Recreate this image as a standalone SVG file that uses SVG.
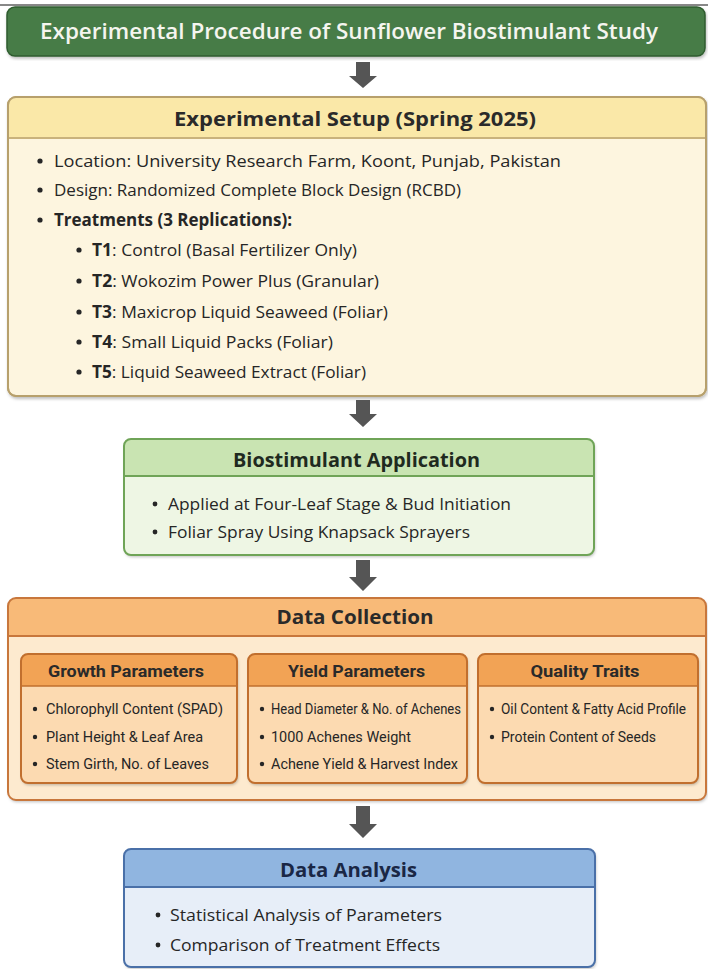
<svg xmlns="http://www.w3.org/2000/svg" width="708" height="969" viewBox="0 0 708 969">
<defs>
<filter id="sh" x="-5%" y="-5%" width="110%" height="115%">
<feDropShadow dx="1" dy="2" stdDeviation="1.5" flood-color="#000" flood-opacity="0.25"/>
</filter>
<style>
.t{font-family:"Open Sans","Noto Sans",sans-serif;}
.hd{font-family:"Open Sans","Noto Sans",sans-serif;font-weight:700;font-size:20px;text-anchor:middle;}
.b{font-family:"Open Sans","Noto Sans",sans-serif;font-size:17px;fill:#262626;}
.s{font-family:Roboto,"Noto Sans",sans-serif;font-size:14.5px;fill:#262626;}
.sh{font-family:Roboto,"Noto Sans",sans-serif;font-weight:700;font-size:17px;fill:#2a2a2a;text-anchor:middle;}
.dot{fill:#262626;}
.arr{fill:#555555;}
</style>
</defs>
<rect width="708" height="969" fill="#ffffff"/>
<line x1="0" y1="5" x2="708" y2="5" stroke="#111" stroke-width="1"/>

<g id="title">
<rect x="7" y="7" width="698" height="49" rx="8" fill="#467b46" stroke="#2f5c2f" stroke-width="1.5" filter="url(#sh)"/>
<text class="t" x="349" y="39" font-size="22" font-weight="600" fill="#f5f5ef" text-anchor="middle" textLength="618" lengthAdjust="spacingAndGlyphs">Experimental Procedure of Sunflower Biostimulant Study</text>
</g>

<g id="setup">
<rect x="8" y="97" width="698" height="299" rx="8" fill="#fdf5df" stroke="#b7a06c" stroke-width="2" filter="url(#sh)"/>
<path d="M8,138 V105 a8,8 0 0 1 8,-8 H698 a8,8 0 0 1 8,8 V138 Z" fill="#fae8a8"/>
<line x1="8" y1="138" x2="706" y2="138" stroke="#c9b27c" stroke-width="2"/>
<rect x="8" y="97" width="698" height="299" rx="8" fill="none" stroke="#b7a06c" stroke-width="2"/>
<text class="hd" x="355" y="126" font-size="21" fill="#2a2a2a" textLength="362" lengthAdjust="spacingAndGlyphs">Experimental Setup (Spring 2025)</text>
<circle class="dot" cx="40" cy="161" r="2.6"/><text class="b" x="54" y="167" textLength="507" lengthAdjust="spacingAndGlyphs">Location: University Research Farm, Koont, Punjab, Pakistan</text>
<circle class="dot" cx="40" cy="190" r="2.6"/><text class="b" x="54" y="196" textLength="407" lengthAdjust="spacingAndGlyphs">Design: Randomized Complete Block Design (RCBD)</text>
<circle class="dot" cx="40" cy="220" r="2.6"/><text class="b" x="54" y="226" font-weight="700" textLength="238" lengthAdjust="spacingAndGlyphs">Treatments (3 Replications):</text>
<circle class="dot" cx="79" cy="250" r="2.6"/><text class="b" x="92" y="256" textLength="265" lengthAdjust="spacingAndGlyphs"><tspan font-weight="700">T1</tspan>: Control (Basal Fertilizer Only)</text>
<circle class="dot" cx="79" cy="281" r="2.6"/><text class="b" x="92" y="287" textLength="287" lengthAdjust="spacingAndGlyphs"><tspan font-weight="700">T2</tspan>: Wokozim Power Plus (Granular)</text>
<circle class="dot" cx="79" cy="312" r="2.6"/><text class="b" x="92" y="318" textLength="296" lengthAdjust="spacingAndGlyphs"><tspan font-weight="700">T3</tspan>: Maxicrop Liquid Seaweed (Foliar)</text>
<circle class="dot" cx="79" cy="342" r="2.6"/><text class="b" x="92" y="348" textLength="241" lengthAdjust="spacingAndGlyphs"><tspan font-weight="700">T4</tspan>: Small Liquid Packs (Foliar)</text>
<circle class="dot" cx="79" cy="372" r="2.6"/><text class="b" x="92" y="378" textLength="274" lengthAdjust="spacingAndGlyphs"><tspan font-weight="700">T5</tspan>: Liquid Seaweed Extract (Foliar)</text>
</g>

<g id="bio">
<rect x="124" y="439" width="470" height="116" rx="7" fill="#eef6e4" filter="url(#sh)"/>
<path d="M124,476 V446 a7,7 0 0 1 7,-7 H587 a7,7 0 0 1 7,7 V476 Z" fill="#c9e4b2"/>
<line x1="124" y1="476" x2="594" y2="476" stroke="#6fa457" stroke-width="2"/>
<rect x="124" y="439" width="470" height="116" rx="7" fill="none" stroke="#6fa457" stroke-width="2"/>
<text class="hd" x="356.5" y="467" fill="#1f2a1f" textLength="247" lengthAdjust="spacingAndGlyphs">Biostimulant Application</text>
<circle class="dot" cx="155" cy="504" r="2.4"/><text class="b" x="168" y="510" textLength="343" lengthAdjust="spacingAndGlyphs">Applied at Four-Leaf Stage &amp; Bud Initiation</text>
<circle class="dot" cx="155" cy="532" r="2.4"/><text class="b" x="168" y="538" textLength="302" lengthAdjust="spacingAndGlyphs">Foliar Spray Using Knapsack Sprayers</text>
</g>

<g id="collection">
<rect x="8" y="598" width="698" height="202" rx="8" fill="#fdeacf" filter="url(#sh)"/>
<path d="M8,636 V606 a8,8 0 0 1 8,-8 H698 a8,8 0 0 1 8,8 V636 Z" fill="#f8ba78"/>
<line x1="8" y1="636" x2="706" y2="636" stroke="#c8773c" stroke-width="2"/>
<rect x="8" y="598" width="698" height="202" rx="8" fill="none" stroke="#c8773c" stroke-width="2"/>
<text class="hd" x="355" y="624" fill="#2a2a2a" textLength="157" lengthAdjust="spacingAndGlyphs">Data Collection</text>
</g>

<g id="growth">
<rect x="21" y="654" width="216" height="129" rx="7" fill="#fcdab1" filter="url(#sh)"/>
<path d="M21,686 V661 a7,7 0 0 1 7,-7 H230 a7,7 0 0 1 7,7 V686 Z" fill="#f2a355"/>
<line x1="21" y1="686" x2="237" y2="686" stroke="#c16f2e" stroke-width="1.5"/>
<rect x="21" y="654" width="216" height="129" rx="7" fill="none" stroke="#c16f2e" stroke-width="2"/>
<text class="sh" x="126" y="677" textLength="156" lengthAdjust="spacingAndGlyphs">Growth Parameters</text>
<circle class="dot" cx="35" cy="709" r="2.2"/><text class="s" x="46" y="714" textLength="177" lengthAdjust="spacingAndGlyphs">Chlorophyll Content (SPAD)</text>
<circle class="dot" cx="35" cy="737" r="2.2"/><text class="s" x="46" y="742" textLength="157" lengthAdjust="spacingAndGlyphs">Plant Height &amp; Leaf Area</text>
<circle class="dot" cx="35" cy="764" r="2.2"/><text class="s" x="46" y="769" textLength="163" lengthAdjust="spacingAndGlyphs">Stem Girth, No. of Leaves</text>
</g>

<g id="yield">
<rect x="248" y="654" width="219" height="129" rx="7" fill="#fcdab1" filter="url(#sh)"/>
<path d="M248,686 V661 a7,7 0 0 1 7,-7 H460 a7,7 0 0 1 7,7 V686 Z" fill="#f2a355"/>
<line x1="248" y1="686" x2="467" y2="686" stroke="#c16f2e" stroke-width="1.5"/>
<rect x="248" y="654" width="219" height="129" rx="7" fill="none" stroke="#c16f2e" stroke-width="2"/>
<text class="sh" x="356.5" y="677" textLength="137" lengthAdjust="spacingAndGlyphs">Yield Parameters</text>
<circle class="dot" cx="262" cy="709" r="2.2"/><text class="s" x="271" y="714" textLength="190" lengthAdjust="spacingAndGlyphs">Head Diameter &amp; No. of Achenes</text>
<circle class="dot" cx="262" cy="737" r="2.2"/><text class="s" x="271" y="742" textLength="140" lengthAdjust="spacingAndGlyphs">1000 Achenes  Weight</text>
<circle class="dot" cx="262" cy="764" r="2.2"/><text class="s" x="271" y="769" textLength="187" lengthAdjust="spacingAndGlyphs">Achene Yield &amp; Harvest Index</text>
</g>

<g id="quality">
<rect x="478" y="654" width="220" height="129" rx="7" fill="#fcdab1" filter="url(#sh)"/>
<path d="M478,686 V661 a7,7 0 0 1 7,-7 H691 a7,7 0 0 1 7,7 V686 Z" fill="#f2a355"/>
<line x1="478" y1="686" x2="698" y2="686" stroke="#c16f2e" stroke-width="1.5"/>
<rect x="478" y="654" width="220" height="129" rx="7" fill="none" stroke="#c16f2e" stroke-width="2"/>
<text class="sh" x="585" y="677" textLength="109" lengthAdjust="spacingAndGlyphs">Quality Traits</text>
<circle class="dot" cx="492" cy="709" r="2.2"/><text class="s" x="501" y="714" textLength="185" lengthAdjust="spacingAndGlyphs">Oil Content &amp; Fatty Acid Profile</text>
<circle class="dot" cx="492" cy="737" r="2.2"/><text class="s" x="501" y="742" textLength="155" lengthAdjust="spacingAndGlyphs">Protein Content of Seeds</text>
</g>

<g id="analysis">
<rect x="124" y="849" width="471" height="118" rx="7" fill="#e7eef8" filter="url(#sh)"/>
<path d="M124,887 V856 a7,7 0 0 1 7,-7 H588 a7,7 0 0 1 7,7 V887 Z" fill="#90b5e0"/>
<line x1="124" y1="887" x2="595" y2="887" stroke="#4a70a8" stroke-width="2"/>
<rect x="124" y="849" width="471" height="118" rx="7" fill="none" stroke="#4a70a8" stroke-width="2"/>
<text class="hd" x="348.5" y="877" fill="#1a2745" textLength="137" lengthAdjust="spacingAndGlyphs">Data Analysis</text>
<circle class="dot" cx="158" cy="915" r="2.4"/><text class="b" x="170" y="921" textLength="272" lengthAdjust="spacingAndGlyphs">Statistical Analysis of Parameters</text>
<circle class="dot" cx="158" cy="945" r="2.4"/><text class="b" x="170" y="951" textLength="270" lengthAdjust="spacingAndGlyphs">Comparison of Treatment Effects</text>
</g>

<g id="connectors">
<path class="arr" d="M356,62 H370 V76 H377 L363,88 L349,76 H356 Z"/>
<path class="arr" d="M356,400 H370 V414 H377 L363,427 L349,414 H356 Z"/>
<path class="arr" d="M356,560 H370 V577 H377 L363,591 L349,577 H356 Z"/>
<path class="arr" d="M356,806 H370 V824 H377 L363,838 L349,824 H356 Z"/>
</g>
</svg>
